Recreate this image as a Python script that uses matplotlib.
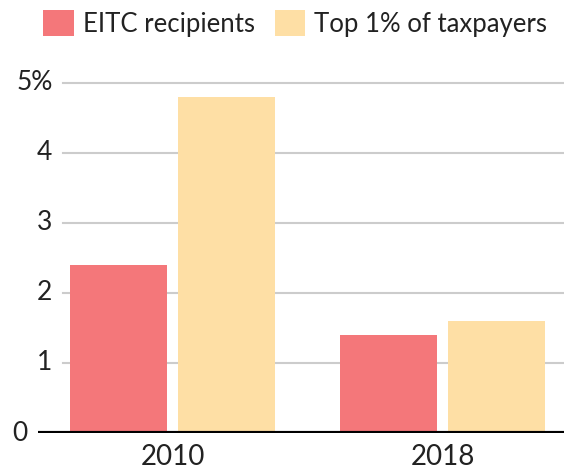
import matplotlib
matplotlib.use("Agg")
import matplotlib.pyplot as plt
import numpy as np

years = ["2010", "2018"]
series = ["EITC recipients", "Top 1% of taxpayers"]
eitc = [2.4, 1.4]
top1 = [4.8, 1.6]
colors = ["#F4777A", "#FEDFA5"]
yticks = [0, 1, 2, 3, 4, 5]
ytick_labels = ["0", "1", "2", "3", "4", "5%"]

plt.rcParams['font.family'] = ['Lato', 'DejaVu Sans']
txt = "#222222"

W, H = 564, 473
fig = plt.figure(figsize=(W / 100, H / 100), dpi=100)
# axes: left edge at x=38px, bottom at y=433px, 70px per unit
ax = fig.add_axes([38 / W, (H - 433) / H, 1 - 38 / W, 5.3 * 70 / H])

x = np.arange(len(years))
w = 0.36
ax.bar(x - 0.2, eitc, w, color=colors[0], label=series[0], zorder=2)
ax.bar(x + 0.2, top1, w, color=colors[1], label=series[1], zorder=2)

ax.set_xlim(-0.498, 1.45)
ax.set_ylim(0, 5.3)

gx = (63 - 38) / (W - 38)
for y in yticks[1:]:
    ax.axhline(y, xmin=gx, xmax=1, color="#cccccc", lw=1.5, zorder=1)
ax.axhline(0, color="black", lw=3, zorder=3)

for s in ax.spines.values():
    s.set_visible(False)
ax.set_yticks([])
ax.set_xticks(x)
ax.set_xticklabels(years, fontsize=20, color=txt)
ax.tick_params(axis="x", length=0, pad=8)

trans = ax.get_yaxis_transform()
for y, lab in zip(yticks, ytick_labels):
    xpos = -0.02 if y == 0 else gx - 0.02
    ax.text(xpos, y, lab, transform=trans, ha="right", va="center",
            fontsize=19, color=txt)

fig.legend(loc="upper left", bbox_to_anchor=(28 / W, 1.012), ncol=2, frameon=False,
           fontsize=18.5, handlelength=1.2, handleheight=1.2, handletextpad=0.35,
           columnspacing=0.75, borderaxespad=0.2, labelcolor=txt)

fig.savefig("out.png", dpi=100)
